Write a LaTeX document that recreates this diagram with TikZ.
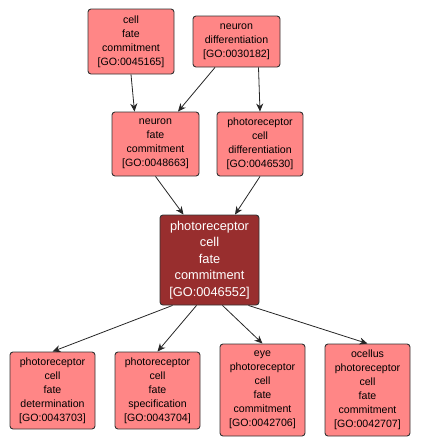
\documentclass[tikz,border=0pt]{standalone}
\usepackage{fontspec}
\setmainfont{Liberation Sans}
\usepackage{tikz}
\usetikzlibrary{arrows.meta}
\definecolor{termfill}{RGB}{255,134,134}
\definecolor{focusfill}{RGB}{152,46,46}
\tikzstyle{edge}=[
	-{Stealth[length=8pt,width=7pt,inset=2.5pt]},
	line width=0.8pt,
	draw=black!85
]
\tikzstyle{term}=[
	rectangle,
	rounded corners=3pt,
	draw=black!80,
	line width=0.9pt,
	fill=termfill,
	inner sep=0pt,
	align=center,
	font=\fontsize{10.6}{14}\selectfont
]
\tikzstyle{focus}=[
	term,
	fill=focusfill,
	text=white,
	font=\fontsize{12.8}{16.6}\selectfont
]

\begin{document}
\begin{tikzpicture}[x=1pt, y=-1pt]
\useasboundingbox (0,0) rectangle (421,448);

% top row
\node[term, minimum width=86pt, minimum height=65pt] at (131, 41.5) (cfc)
    {cell\\fate\\commitment\\{[GO:0045165]}};
\node[term, minimum width=87pt, minimum height=51pt] at (236.5, 41.5) (nd)
    {neuron\\differentiation\\{[GO:0030182]}};

% middle row
\node[term, minimum width=87pt, minimum height=64pt] at (155.5, 144) (nfc)
    {neuron\\fate\\commitment\\{[GO:0048663]}};
\node[term, minimum width=86pt, minimum height=64pt] at (260, 144) (pcd)
    {photoreceptor\\cell\\differentiation\\{[GO:0046530]}};

% focus term
\node[focus, minimum width=99pt, minimum height=90pt] at (209.5, 260) (pcfc)
    {photoreceptor\\cell\\fate\\commitment\\{[GO:0046552]}};

% bottom row
\node[term, minimum width=85pt, minimum height=77pt] at (52.5, 390.5) (pcfd)
    {photoreceptor\\cell\\fate\\determination\\{[GO:0043703]}};
\node[term, minimum width=85pt, minimum height=77pt] at (157.5, 390.5) (pcfs)
    {photoreceptor\\cell\\fate\\specification\\{[GO:0043704]}};
\node[term, minimum width=85pt, minimum height=92pt] at (262.5, 390) (epcfc)
    {eye\\photoreceptor\\cell\\fate\\commitment\\{[GO:0042706]}};
\node[term, minimum width=85pt, minimum height=92pt] at (367.5, 390) (opcfc)
    {ocellus\\photoreceptor\\cell\\fate\\commitment\\{[GO:0042707]}};

\draw[edge] (cfc.south) to ([xshift=-21pt]nfc.north);
\draw[edge] ([xshift=-21.5pt]nd.south) to ([xshift=22.5pt]nfc.north);
\draw[edge] ([xshift=22pt]nd.south) to (pcd.north);
\draw[edge] (nfc.south) to ([xshift=-26pt]pcfc.north);
\draw[edge] (pcd.south) to ([xshift=25.5pt]pcfc.north);

\foreach \dx/\y in {-37/pcfd, -13/pcfs, 13/epcfc, 39/opcfc}{
    \draw[edge] ([xshift=\dx pt]pcfc.south) to (\y.north);
}

\end{tikzpicture}
\end{document}
